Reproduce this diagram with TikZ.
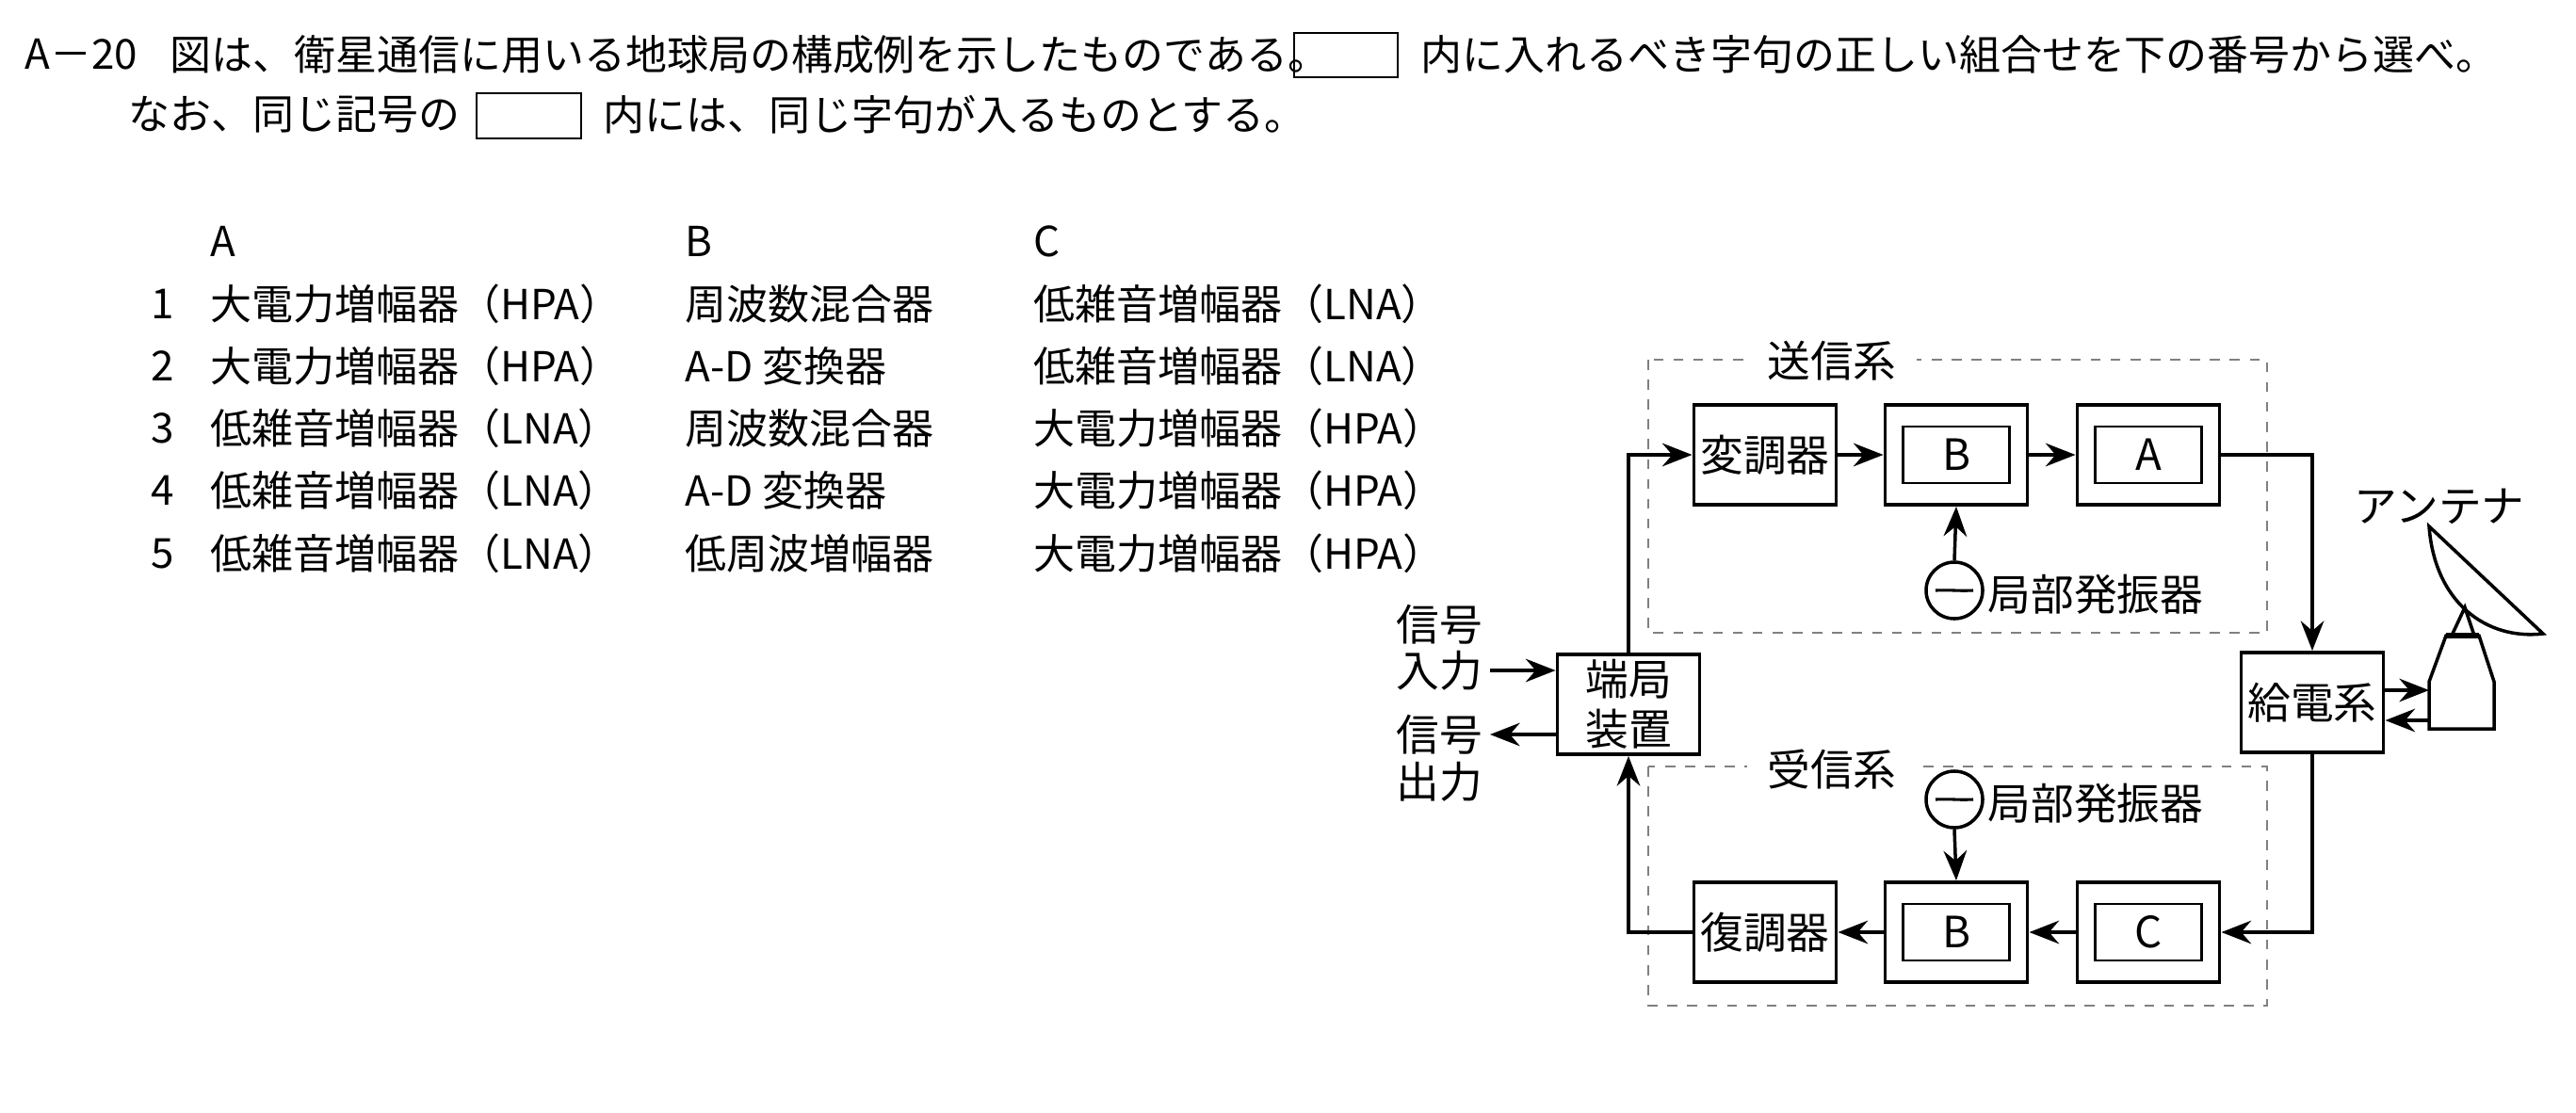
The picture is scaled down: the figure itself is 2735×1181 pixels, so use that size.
\documentclass[tikz,border=0pt]{standalone}
\usepackage{fontspec}
\setmainfont{Noto Sans CJK JP}
\usetikzlibrary{arrows.meta}
\begin{document}
\begin{tikzpicture}[x=0.01cm,y=-0.01cm,
  txt/.style={inner sep=0pt,anchor=west,font=\fontsize{12.5}{14}\selectfont},
  lbl/.style={inner sep=0pt,font=\fontsize{13}{15}\selectfont},
  blk/.style={draw,line width=1.1pt,minimum width=1.51cm,minimum height=1.06cm,inner sep=0pt,font=\fontsize{13}{15}\selectfont,align=center},
  inr/.style={draw,line width=0.6pt,minimum width=1.13cm,minimum height=0.6cm,inner sep=0pt,font=\fontsize{13}{15}\selectfont},
  osc/.style={draw,line width=1pt,circle,minimum size=0.6cm,inner sep=0pt},
  con/.style={line width=1pt,-{Stealth[length=9pt,width=7pt,inset=3pt]}},
  grp/.style={draw=gray,dashed,line width=0.5pt},
  blank/.style={draw,line width=0.8pt}]
\useasboundingbox (0,0) rectangle (2735,1181);
% header
\node[txt] (q) at (26,58) {A－20};
\node[txt] (l1) at (180,58) {図は、衛星通信に用いる地球局の構成例を示したものである。};
\draw[blank] (1374,35) rectangle (1484,82);
\node[txt] (l1b) at (1508,58) {内に入れるべき字句の正しい組合せを下の番号から選べ。};
\node[txt] (l2) at (136,122) {なお、同じ記号の};
\draw[blank] (506,99) rectangle (617,147);
\node[txt] (l2b) at (640,122) {内には、同じ字句が入るものとする。};
% table
\node[txt] (hA) at (223,256) {A};
\node[txt] (hB) at (727,256) {B};
\node[txt] (hC) at (1097,256) {C};
\foreach \n/\y/\a/\b/\c in {1/323/大電力増幅器（HPA）/周波数混合器/低雑音増幅器（LNA）,
  2/389/大電力増幅器（HPA）/A-D 変換器/低雑音増幅器（LNA）,
  3/455/低雑音増幅器（LNA）/周波数混合器/大電力増幅器（HPA）,
  4/521/低雑音増幅器（LNA）/A-D 変換器/大電力増幅器（HPA）,
  5/588/低雑音増幅器（LNA）/低周波増幅器/大電力増幅器（HPA）}{
  \node[txt] (n\n) at (160,\y) {\n};
  \node[txt] (a\n) at (223,\y) {\a};
  \node[txt] (b\n) at (727,\y) {\b};
  \node[txt] (c\n) at (1097,\y) {\c};
}
% groups
\draw[grp] (1750,382) rectangle (2407,672);
\node[lbl,fill=white,inner sep=6pt] (tx) at (1945,383) {送信系};
\draw[grp] (1750,814) rectangle (2407,1068);
\node[lbl,fill=white,inner sep=6pt] (rx) at (1945,817) {受信系};
% blocks
\node[blk] (tk) at (1729,748) {端局\\装置};
\node[blk] (mod) at (1874,483) {変調器};
\node[blk] (B1) at (2077,483) {};
\node[inr] (B1i) at (2077,483) {B};
\node[blk] (A1) at (2281,483) {};
\node[inr] (A1i) at (2281,483) {A};
\node[blk] (feed) at (2455,746) {給電系};
\node[blk] (dem) at (1874,990) {復調器};
\node[blk] (B2) at (2077,990) {};
\node[inr] (B2i) at (2077,990) {B};
\node[blk] (C2) at (2281,990) {};
\node[inr] (C2i) at (2281,990) {C};
\node[osc] (o1) at (2075,627) {};
\draw[line width=0.9pt] ([xshift=-0.2cm]o1.center) .. controls +(0.08,-0.22) and +(-0.08,-0.22) .. (o1.center) .. controls +(0.08,0.22) and +(-0.08,0.22) .. ([xshift=0.2cm]o1.center);
\node[lbl,anchor=west] (o1l) at (2110,631) {局部発振器};
\node[osc] (o2) at (2075,849) {};
\draw[line width=0.9pt] ([xshift=-0.2cm]o2.center) .. controls +(0.08,-0.22) and +(-0.08,-0.22) .. (o2.center) .. controls +(0.08,0.22) and +(-0.08,0.22) .. ([xshift=0.2cm]o2.center);
\node[lbl,anchor=west] (o2l) at (2110,853) {局部発振器};
% antenna
\draw[line width=1pt] (2579,559) -- (2700,673) .. controls (2640,680) and (2585,640) .. cycle;
\draw[line width=1pt] (2603,675) -- (2617,645) -- (2627,675);
\draw[line width=1pt] (2597,675) -- (2632,675) -- (2648,724) -- (2648,774) -- (2579,774) -- (2579,724) -- cycle;
\draw[line width=1.6pt] (2597,675) -- (2632,675);
\coordinate (hornL1) at (2579,733);
\coordinate (hornL2) at (2579,765);
\node[lbl] (ant) at (2590,538) {アンテナ};
% left labels
\node[lbl,anchor=east] (s1) at (1575,663) {信号};
\node[lbl,anchor=east] (s2) at (1575,712) {入力};
\node[lbl,anchor=east] (s3) at (1575,780) {信号};
\node[lbl,anchor=east] (s4) at (1575,830) {出力};
\coordinate (inp) at (1582,712);
\coordinate (outp) at (1582,780);
% connectors
\draw[con] (inp) -- (tk.west |- inp);
\draw[con] (tk.west |- outp) -- (outp);
\draw[con] (tk.north) |- (mod.west);
\draw[con] (mod.east) -- (B1.west);
\draw[con] (B1.east) -- (A1.west);
\draw[con] (o1.north) -- (B1.south);
\draw[con] (A1.east) -| (feed.north);
\draw[con] (feed.east |- hornL1) -- (hornL1);
\draw[con] (hornL2) -- (feed.east |- hornL2);
\draw[con] (feed.south) |- (C2.east);
\draw[con] (C2.west) -- (B2.east);
\draw[con] (o2.south) -- (B2.north);
\draw[con] (B2.west) -- (dem.east);
\draw[con] (dem.west) -| (tk.south);
\end{tikzpicture}
\end{document}
